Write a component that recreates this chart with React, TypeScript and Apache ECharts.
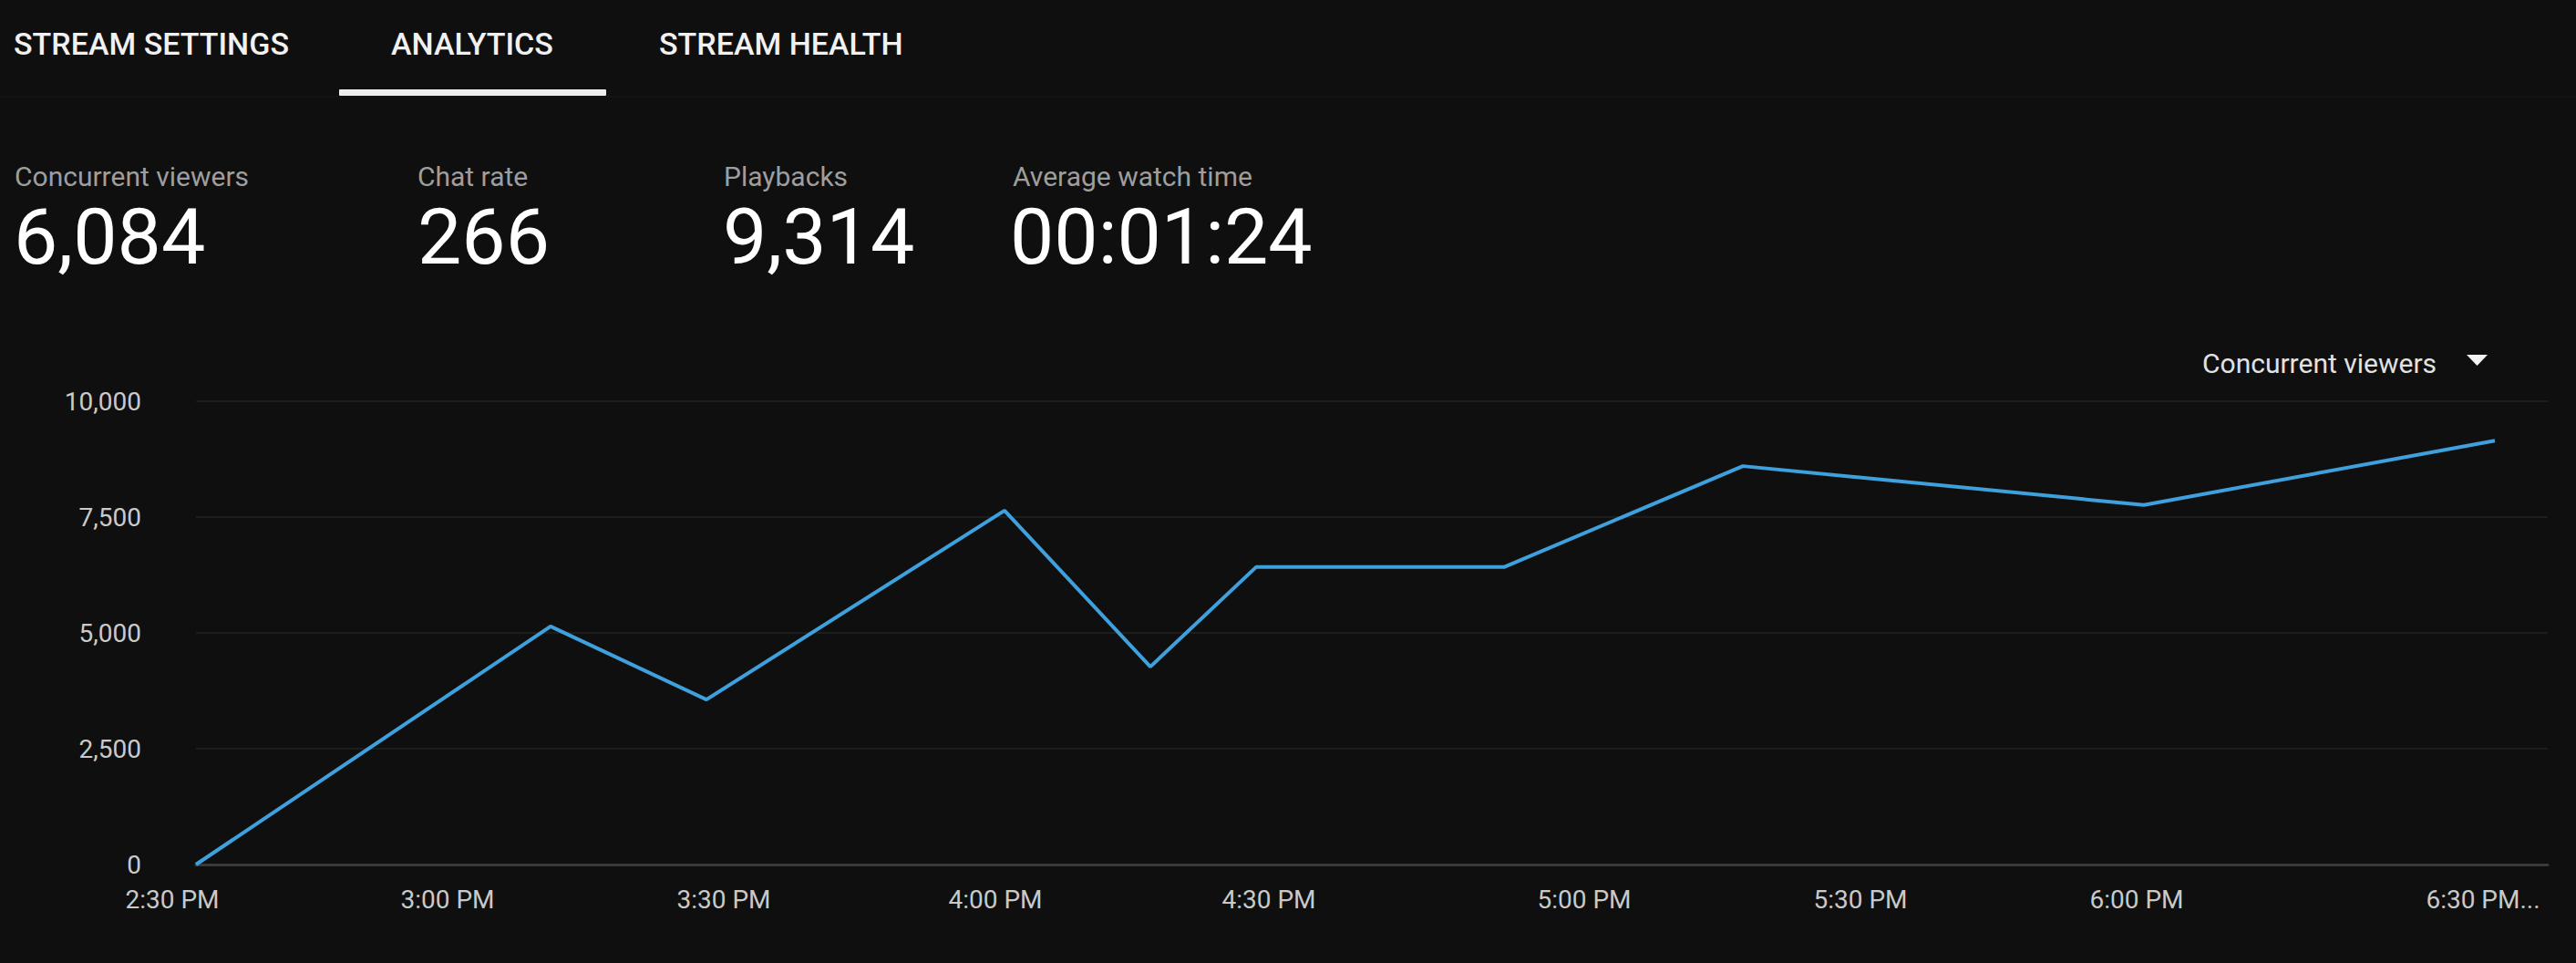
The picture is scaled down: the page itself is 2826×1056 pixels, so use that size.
import React, { useEffect, useRef } from "react";
import * as echarts from "echarts";

// ---- data ----
const tabs = ["STREAM SETTINGS", "ANALYTICS", "STREAM HEALTH"];
const statLabels = ["Concurrent viewers", "Chat rate", "Playbacks", "Average watch time"];
const statValues = ["6,084", "266", "9,314", "00:01:24"];
const seriesName = "Concurrent viewers";
// minutes after 2:30 PM
const sampleMinutes = [0, 38.9, 56.0, 88.7, 104.7, 116.3, 143.5, 169.7, 213.7, 252.2];
const concurrentViewers = [0, 5140, 3560, 7640, 4270, 6420, 6420, 8600, 7760, 9150];
const xTickMinutes = [0, 30.2, 60.5, 90.3, 120.3, 154.9, 185.2, 215.5, 253.5];
const xTickLabels = ["2:30 PM", "3:00 PM", "3:30 PM", "4:00 PM", "4:30 PM", "5:00 PM", "5:30 PM", "6:00 PM", "6:30 PM..."];
const yMin = 0;
const yMax = 10000;
const yStep = 2500;
const xMin = 0;
const xMax = 258;

const FONT = "Roboto, 'Noto Sans', sans-serif";

export default function App() {
  const ref = useRef<HTMLDivElement>(null);

  useEffect(() => {
    document.body.style.margin = "0";
    document.body.style.background = "#0f0f0f";
    const chart = echarts.init(ref.current!, undefined, { renderer: "svg" });

    const tabX = [15, 429, 723];
    const statX = [16, 458, 794, 1111];
    const valueX = [15, 458, 793, 1108];

    const elements: any[] = [];
    tabs.forEach((t, i) => {
      elements.push({
        type: "text",
        x: tabX[i],
        y: 48,
        style: {
          text: t,
          fill: "#f1f1f1",
          fontSize: 34,
          fontWeight: 500,
          fontFamily: FONT,
          textAlign: "left",
          verticalAlign: "middle",
        },
      });
    });
    elements.push({
      type: "line",
      shape: { x1: 0, y1: 106, x2: 2826, y2: 106 },
      style: { stroke: "#131313", lineWidth: 2 },
    });
    elements.push({
      type: "rect",
      shape: { x: 372, y: 98, width: 293, height: 7, r: 1 },
      style: { fill: "#eeeeee" },
    });
    statLabels.forEach((t, i) => {
      elements.push({
        type: "text",
        x: statX[i],
        y: 193,
        style: {
          text: t,
          fill: "#9e9e9e",
          fontSize: 30,
          fontFamily: FONT,
          textAlign: "left",
          verticalAlign: "middle",
        },
      });
      elements.push({
        type: "text",
        x: valueX[i],
        y: 259,
        style: {
          text: statValues[i],
          fill: "#ffffff",
          fontSize: 86,
          fontFamily: FONT,
          textAlign: "left",
          verticalAlign: "middle",
        },
      });
    });
    elements.push({
      type: "text",
      x: 2416,
      y: 398,
      style: {
        text: seriesName,
        fill: "#e2e2e2",
        fontSize: 30,
        fontFamily: FONT,
        textAlign: "left",
        verticalAlign: "middle",
      },
    });
    elements.push({
      type: "polygon",
      shape: { points: [[2706, 389], [2729, 389], [2717.5, 401]] },
      style: { fill: "#f4f4f4" },
    });

    chart.setOption({
      animation: false,
      backgroundColor: "#0f0f0f",
      grid: {
        left: 215,
        right: 31,
        top: 440,
        bottom: 108,
        containLabel: false,
        outerBoundsMode: "none",
      },
      xAxis: {
        type: "value",
        min: xMin,
        max: xMax,
        axisLine: { show: true, lineStyle: { color: "#3a3a3a", width: 3 } },
        axisTick: { show: false },
        splitLine: { show: false },
        axisLabel: {
          customValues: xTickMinutes,
          formatter: (v: number) => {
            const i = xTickMinutes.findIndex((m) => Math.abs(m - v) < 0.01);
            return i >= 0 ? xTickLabels[i] : "";
          },
          color: "#c9c9c9",
          fontSize: 28,
          fontFamily: FONT,
          margin: 24,
          padding: [0, 52, 0, 0],
        },
      },
      yAxis: {
        type: "value",
        min: yMin,
        max: yMax,
        interval: yStep,
        axisLine: { show: false },
        axisTick: { show: false },
        splitLine: { show: true, lineStyle: { color: "#1d1d1d", width: 2 } },
        axisLabel: {
          formatter: (v: number) => v.toLocaleString("en-US"),
          color: "#cacaca",
          fontSize: 28,
          fontFamily: FONT,
          margin: 60,
          padding: [0, 0, 6, 0],
        },
      },
      series: [
        {
          name: seriesName,
          type: "line",
          data: sampleMinutes.map((m, i) => [m, concurrentViewers[i]]),
          showSymbol: false,
          symbol: "none",
          smooth: false,
          lineStyle: { color: "#3ea0dc", width: 4 },
        },
      ],
      graphic: { elements },
    });

    return () => chart.dispose();
  }, []);

  return <div ref={ref} style={{ width: 2826, height: 1056, background: "#0f0f0f" }} />;
}
